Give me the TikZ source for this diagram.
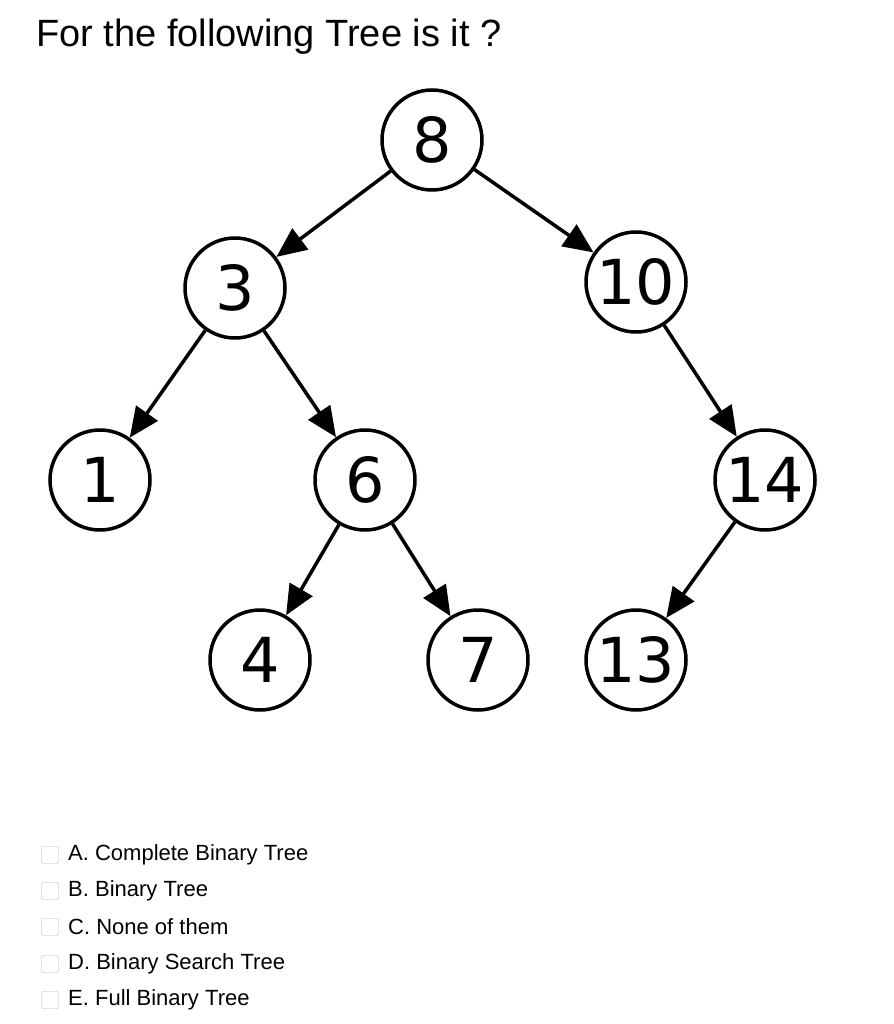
\documentclass[tikz,border=0pt]{standalone}
\usepackage{fontspec}
\setmainfont{Liberation Sans}
\newfontfamily\djvfont{DejaVu Sans}
\usetikzlibrary{arrows.meta}
\begin{document}
\begin{tikzpicture}[x=1pt,y=-1pt,
 tn/.style={circle,draw,line width=3.5pt,minimum size=100pt,inner sep=0pt,font=\djvfont\fontsize{62}{62}\selectfont},
 ed/.style={line width=3.5pt,-{Triangle[length=30pt,width=26pt]}},
 cb/.style={draw=gray!60,rounded corners=2pt,minimum size=17pt,inner sep=0pt},
 opt/.style={anchor=west,font=\fontsize{22}{22}\selectfont,inner sep=0pt}]
\useasboundingbox (0,0) rectangle (893,1024);
\node[anchor=west,inner sep=0pt,font=\fontsize{38}{38}\selectfont] (t) at (36,37) {For the following Tree is it ?};
\node[tn] (n8) at (432,140) {8};
\node[tn] (n3) at (235,288) {3};
\node[tn] (n10) at (636,282) {10};
\node[tn] (n1) at (100,480) {1};
\node[tn] (n6) at (365,480) {6};
\node[tn] (n14) at (765,480) {14};
\node[tn] (n4) at (260,660) {4};
\node[tn] (n7) at (478,660) {7};
\node[tn] (n13) at (636,660) {13};
\draw[ed] (n8) -- (n3);
\draw[ed] (n8) -- (n10);
\draw[ed] (n3) -- (n1);
\draw[ed] (n3) -- (n6);
\draw[ed] (n10) -- (n14);
\draw[ed] (n6) -- (n4);
\draw[ed] (n6) -- (n7);
\draw[ed] (n14) -- (n13);
\foreach \y/\t [count=\i] in {855/A. Complete Binary Tree,891/B. Binary Tree,927/C. None of them,964/D. Binary Search Tree,1000/E. Full Binary Tree}{
 \node[cb] (c\i) at (50,\y) {};
 \node[opt] (o\i) at (68,\y) {\t};
}
\end{tikzpicture}
\end{document}
